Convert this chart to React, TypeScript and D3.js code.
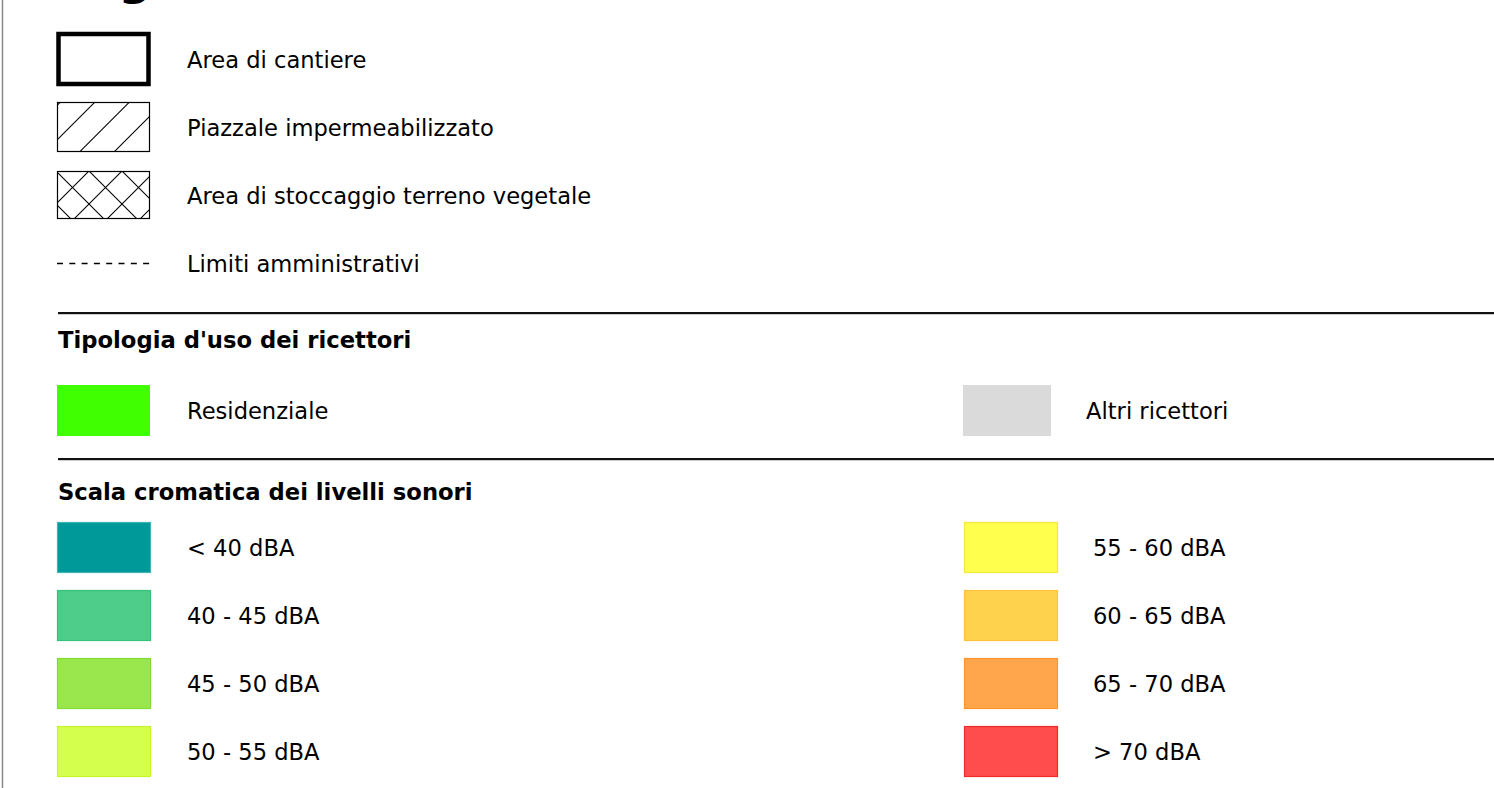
import React, { useEffect, useRef } from 'react';
import * as d3 from 'd3';

// legend content
const symbolLabels = ['Area di cantiere', 'Piazzale impermeabilizzato', 'Area di stoccaggio terreno vegetale', 'Limiti amministrativi'];
const symbolKinds = ['box', 'hatch', 'cross', 'dash'];

const useLabels = ['Residenziale', 'Altri ricettori'];
const useColors = ['#40ff00', '#dadada'];

const scaleLabels = ['< 40 dBA', '40 - 45 dBA', '45 - 50 dBA', '50 - 55 dBA', '55 - 60 dBA', '60 - 65 dBA', '65 - 70 dBA', '> 70 dBA'];
const scaleFills = ['#009999', '#4dcc8a', '#99e64d', '#d4ff4d', '#ffff4d', '#ffd24d', '#ffa64d', '#ff4d4d'];
const scaleStrokes = ['#40b3b3', '#33c27a', '#80dc33', '#c6f52a', '#f5e640', '#ffc23a', '#ff9530', '#f52a2a'];

const W = 1494;
const H = 788;
const FONT = '"DejaVu Sans", Verdana, sans-serif';

const App = () => {
  const ref = useRef<SVGSVGElement>(null);

  useEffect(() => {
    const svg = d3.select(ref.current);
    svg.selectAll('*').remove();

    svg.append('rect').attr('width', W).attr('height', H).attr('fill', '#fff');

    // left frame line
    svg.append('line').attr('x1', 2.5).attr('x2', 2.5).attr('y1', 0).attr('y2', H)
      .attr('stroke', '#888').attr('stroke-width', 1.5);

    // title, cut at top like in the original
    svg.append('text').attr('x', 58).attr('y', -6).text('Legenda')
      .attr('font-family', FONT).attr('font-weight', 'bold').attr('font-size', 46).attr('fill', '#000');

    const sx = 57, sw = 93;
    const labelX = 187;

    // symbols section
    const ySym = d3.scaleLinear().domain([0, 3]).range([59, 263]);
    const defs = svg.append('defs');

    symbolKinds.forEach((kind, i) => {
      const cy = ySym(i);
      const g = svg.append('g');
      if (kind === 'box') {
        g.append('rect').attr('x', sx + 1.5).attr('y', cy - 25).attr('width', sw - 3).attr('height', 50)
          .attr('fill', 'none').attr('stroke', '#000').attr('stroke-width', 4.5);
      } else if (kind === 'hatch' || kind === 'cross') {
        const h = kind === 'hatch' ? 50 : 48;
        const y0 = cy - h / 2;
        const id = 'clip' + i;
        defs.append('clipPath').attr('id', id).append('rect')
          .attr('x', sx).attr('y', y0).attr('width', sw).attr('height', h);
        const lines = g.append('g').attr('clip-path', `url(#${id})`);
        const step = kind === 'hatch' ? 34.5 : 33;
        const off = kind === 'hatch' ? (sx - 12) + (y0 + h) : 89 + y0;
        // "/" lines: x + y = c
        d3.range(-6, 8).forEach(k => {
          const c = off + k * step;
          lines.append('line').attr('x1', c - (y0 + h + 5)).attr('y1', y0 + h + 5)
            .attr('x2', c - (y0 - 5)).attr('y2', y0 - 5)
            .attr('stroke', '#000').attr('stroke-width', 1.1);
        });
        if (kind === 'cross') {
          const c2 = 89 - y0;
          d3.range(-6, 8).forEach(k => {
            const c = c2 + k * step;
            lines.append('line').attr('x1', c + (y0 - 5)).attr('y1', y0 - 5)
              .attr('x2', c + (y0 + h + 5)).attr('y2', y0 + h + 5)
              .attr('stroke', '#000').attr('stroke-width', 1.1);
          });
        }
        g.append('rect').attr('x', sx + 0.5).attr('y', y0 + 0.5).attr('width', sw - 1).attr('height', h - 1)
          .attr('fill', 'none').attr('stroke', '#000').attr('stroke-width', 1.2);
      } else {
        g.append('line').attr('x1', sx).attr('x2', sx + sw).attr('y1', cy + 0.5).attr('y2', cy + 0.5)
          .attr('stroke', '#000').attr('stroke-width', 1.5).attr('stroke-dasharray', '6,6.3');
      }
      svg.append('text').attr('x', labelX).attr('y', cy + 9).text(symbolLabels[i])
        .attr('font-family', FONT).attr('font-size', 22.6).attr('fill', '#000');
    });

    // section rules
    const rule = (y: number) => {
      svg.append('line').attr('x1', 58).attr('x2', W).attr('y1', y).attr('y2', y)
        .attr('stroke', '#111').attr('stroke-width', 2);
      svg.append('line').attr('x1', 58).attr('x2', W).attr('y1', y + 1.5).attr('y2', y + 1.5)
        .attr('stroke', '#ccc').attr('stroke-width', 1);
    };
    rule(313);
    rule(459);

    const heading = (t: string, y: number) => {
      svg.append('text').attr('x', 58).attr('y', y).text(t)
        .attr('font-family', FONT).attr('font-weight', 'bold').attr('font-size', 22.7).attr('fill', '#000');
    };
    heading("Tipologia d'uso dei ricettori", 348);
    heading('Scala cromatica dei livelli sonori', 500);

    // use type
    const useX = [57, 963];
    const useW = [93, 88];
    const useLabelX = [187, 1086];
    useLabels.forEach((l, i) => {
      svg.append('rect').attr('x', useX[i]).attr('y', 385).attr('width', useW[i]).attr('height', 51)
        .attr('fill', useColors[i]);
      svg.append('text').attr('x', useLabelX[i]).attr('y', 419).text(l)
        .attr('font-family', FONT).attr('font-size', 22.6).attr('fill', '#000');
    });

    // noise scale, two columns of four
    const yRow = d3.scaleLinear().domain([0, 3]).range([522, 726]);
    const colX = [57, 964];
    const colLabelX = [187, 1093];
    scaleLabels.forEach((l, i) => {
      const col = Math.floor(i / 4);
      const row = i % 4;
      const y = yRow(row);
      svg.append('rect').attr('x', colX[col] + 0.5).attr('y', y + 0.5).attr('width', 93).attr('height', 50)
        .attr('fill', scaleFills[i]).attr('stroke', scaleStrokes[i]).attr('stroke-width', 1.2);
      svg.append('text').attr('x', colLabelX[col]).attr('y', y + 34).text(l)
        .attr('font-family', FONT).attr('font-size', 22.6).attr('fill', '#000');
    });
  }, []);

  return (
    <svg ref={ref} width={W} height={H} style={{ position: 'absolute', left: 0, top: 0 }} />
  );
};

export default App;
